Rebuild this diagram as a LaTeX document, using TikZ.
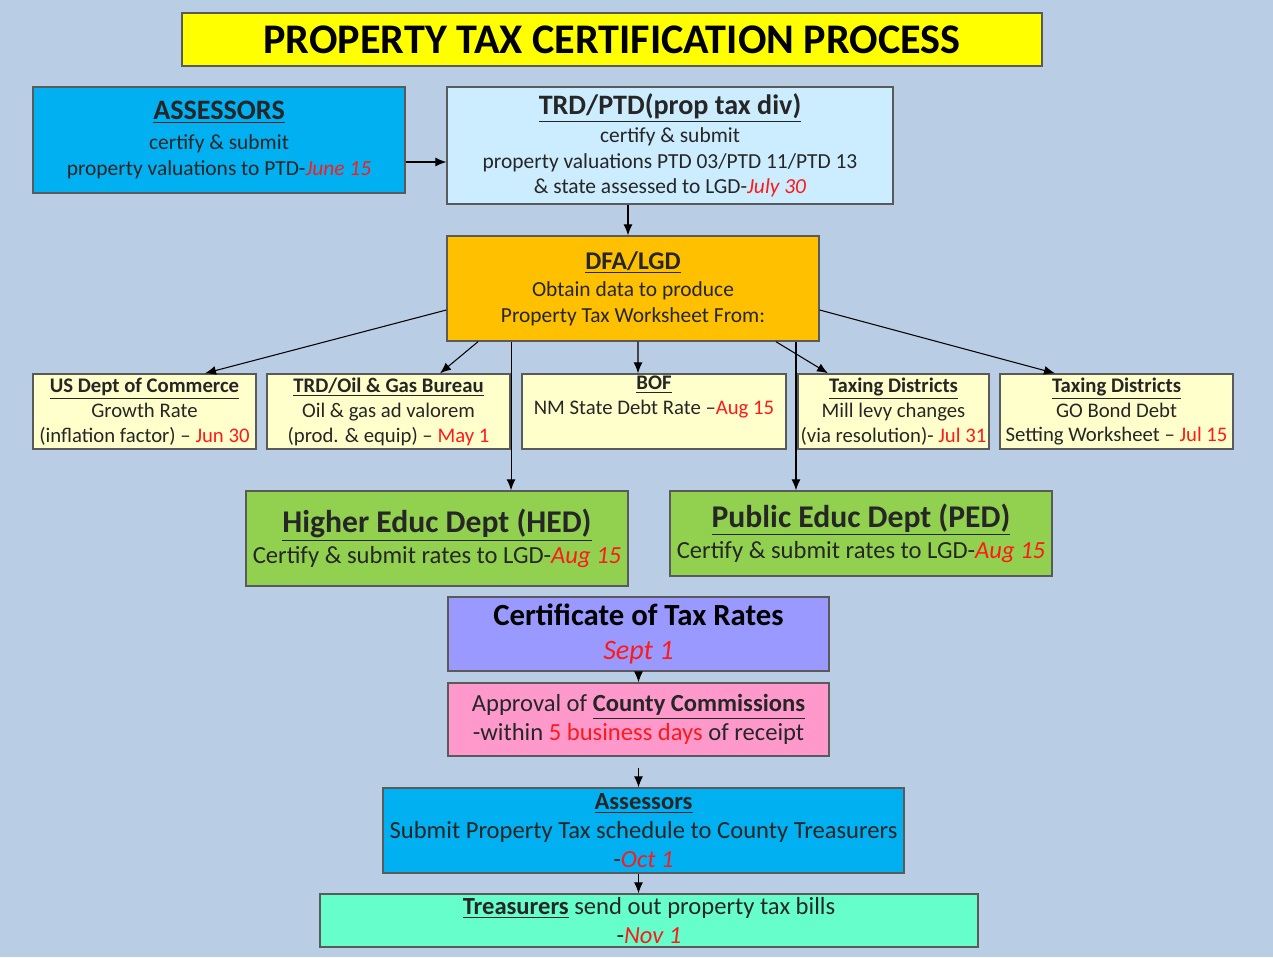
\documentclass[tikz,border=0pt]{standalone}
\usepackage{fontspec}
\setmainfont{Carlito}
\usepackage{xcolor}
\usepackage{tikz}
\definecolor{bgblue}{HTML}{B9CDE5}
\definecolor{ttlyellow}{HTML}{FFFF00}
\definecolor{asrblue}{HTML}{00B0F0}
\definecolor{ptdblue}{HTML}{CCECFF}
\definecolor{lgdorange}{HTML}{FFC000}
\definecolor{srccream}{HTML}{FFFFCC}
\definecolor{edugreen}{HTML}{92D050}
\definecolor{ctrviolet}{HTML}{9999FF}
\definecolor{ccapink}{HTML}{FF99CC}
\definecolor{trbmint}{HTML}{66FFCC}
\definecolor{datered}{HTML}{FF1A1A}
\definecolor{boxline}{HTML}{5A5A5A}
\newcommand{\dl}[1]{\textcolor{datered}{#1}}
\newcommand{\di}[1]{\textcolor{datered}{\itshape #1}}
\tikzstyle{bx} = [draw=boxline, line width=0.8pt, align=center, inner sep=1pt, text=black!85]
\tikzstyle{src} = [bx, fill=srccream, minimum height=1.5cm, font=\fontsize{11.8}{14.2}\selectfont]
\tikzstyle{a} = [draw, black, line width=0.6pt, -{Latex[length=2.2mm,width=1.8mm]}]
\usetikzlibrary{arrows.meta,calc}

\begin{document}
\begin{tikzpicture}[x=0.02cm, y=-0.02cm]
  \fill[bgblue] (0,0) rectangle (1273,957);
  \useasboundingbox (0,0) rectangle (1273,957);

  % title and first row
  \node[bx, fill=ttlyellow, text=black, minimum width=17.2cm, minimum height=1.06cm,
        font=\fontsize{24}{28}\selectfont\bfseries] (TTL) at (612,39.5) {PROPERTY TAX CERTIFICATION PROCESS};
  \node[bx, fill=asrblue, minimum width=7.44cm, minimum height=2.12cm,
        font=\fontsize{12.2}{14.7}\selectfont] (ASR) at (219,140)
    {{\fontsize{16}{17}\selectfont\bfseries\underline{ASSESSORS}}\\[2pt]
     certify \& submit\\ property valuations to PTD-\di{June 15}};
  \node[bx, fill=ptdblue, minimum width=8.92cm, minimum height=2.34cm,
        font=\fontsize{12.2}{14.7}\selectfont] (PTD) at (670,145.5)
    {{\fontsize{16}{17}\selectfont\bfseries\underline{TRD/PTD(prop tax div)}}\\[1pt]
     certify \& submit\\ property valuations PTD 03/PTD 11/PTD 13\\ \& state assessed to LGD-\di{July 30}};
  \node[bx, fill=lgdorange, minimum width=7.44cm, minimum height=2.10cm,
        font=\fontsize{12.2}{14.7}\selectfont] (LGD) at (633,288.5)
    {{\fontsize{14.5}{16}\selectfont\bfseries\underline{DFA/LGD}}\\[1pt]
     Obtain data to produce\\ Property Tax Worksheet From:};

  % data sources
  \node[src, minimum width=4.46cm] (USD) at (144.5,411.5)
    {\textbf{\underline{US Dept of Commerce}}\\ Growth Rate\\ (inflation factor) -- \dl{Jun 30}};
  \node[src, minimum width=4.86cm] (OGB) at (388.5,411.5)
    {\textbf{\underline{TRD/Oil \& Gas Bureau}}\\ Oil \& gas ad valorem\\ (prod. \& equip) -- \dl{May 1}};
  \node[src, minimum width=5.28cm] (BOF) at (654,411.5)
    {\textbf{\underline{BOF}}\\ NM State Debt Rate --\dl{Aug 15}\\ \strut};
  \node[src, minimum width=3.82cm] (TD1) at (893.5,411.5)
    {\textbf{\underline{Taxing Districts}}\\ Mill levy changes\\ (via resolution)- \dl{Jul 31}};
  \node[src, minimum width=4.66cm] (TD2) at (1116.5,411.5)
    {\textbf{\underline{Taxing Districts}}\\ GO Bond Debt\\ Setting Worksheet -- \dl{Jul 15}};

  % education departments
  \node[bx, fill=edugreen, minimum width=7.64cm, minimum height=1.90cm,
        font=\fontsize{14}{17}\selectfont] (HED) at (437,538.5)
    {{\fontsize{18}{20}\selectfont\bfseries\underline{Higher Educ Dept (HED)}}\\[1pt]
     Certify \& submit rates to LGD-\di{Aug 15}};
  \node[bx, fill=edugreen, minimum width=7.64cm, minimum height=1.70cm,
        font=\fontsize{14}{17}\selectfont] (PED) at (861,533.5)
    {{\fontsize{18}{20}\selectfont\bfseries\underline{Public Educ Dept (PED)}}\\[1pt]
     Certify \& submit rates to LGD-\di{Aug 15}};

  % final chain
  \node[bx, fill=ctrviolet, minimum width=7.62cm, minimum height=1.48cm,
        font=\fontsize{17.5}{19.8}\selectfont] (CTR) at (638.5,634)
    {{\bfseries\color{black}Certificate of Tax Rates}\\ {\fontsize{16}{19.8}\selectfont\di{Sept 1}}};
  \node[bx, fill=ccapink, minimum width=7.62cm, minimum height=1.46cm,
        font=\fontsize{14}{16.4}\selectfont] (CCA) at (638.5,719.5)
    {Approval of \textbf{\underline{County Commissions}}\\ -within \dl{5 business days} of receipt};
  \node[bx, fill=asrblue, minimum width=10.42cm, minimum height=1.70cm,
        font=\fontsize{14}{16.4}\selectfont] (ASB) at (643.5,830.5)
    {\textbf{\underline{Assessors}}\\ Submit Property Tax schedule to County Treasurers\\ -\di{Oct 1}};
  \node[bx, fill=trbmint, minimum width=13.16cm, minimum height=1.06cm,
        font=\fontsize{14}{16.4}\selectfont] (TRB) at (649,920.5)
    {\textbf{\underline{Treasurers}} send out property tax bills\\ -\di{Nov 1}};

  % connectors
  \coordinate (a1) at ([yshift=-0.44cm]ASR.east);
  \draw[a] (a1) -- (a1 -| PTD.west);
  \coordinate (a2) at ([xshift=-0.1cm]LGD.north);
  \draw[a] (a2 |- PTD.south) -- (a2);
  \draw[a] ([yshift=-0.43cm]LGD.west) -- ([xshift=1.21cm]USD.north);
  \draw[a] ([xshift=-3.1cm]LGD.south) -- ([xshift=1.03cm]OGB.north);
  \draw[a] ([xshift=0.1cm]LGD.south) -- ([xshift=-0.32cm]BOF.north);
  \draw[a] ([xshift=2.86cm]LGD.south) -- ([xshift=-1.31cm]TD1.north);
  \draw[a] ([yshift=-0.43cm]LGD.east) -- ([xshift=-1.23cm]TD2.north);
  \coordinate (h1) at ([xshift=-2.44cm]LGD.south);
  \draw[a] (h1) -- (h1 |- HED.north);
  \coordinate (p1) at ([xshift=3.26cm]LGD.south);
  \draw[a] (p1) -- (p1 |- PED.north);
  \draw[a] (CTR) -- (CCA);
  \coordinate (s1) at (CCA.south);
  \draw[a, shorten <=0.22cm] (s1) -- (s1 |- ASB.north);
  \draw[a] (s1 |- ASB.south) -- (s1 |- TRB.north);
\end{tikzpicture}
\end{document}
